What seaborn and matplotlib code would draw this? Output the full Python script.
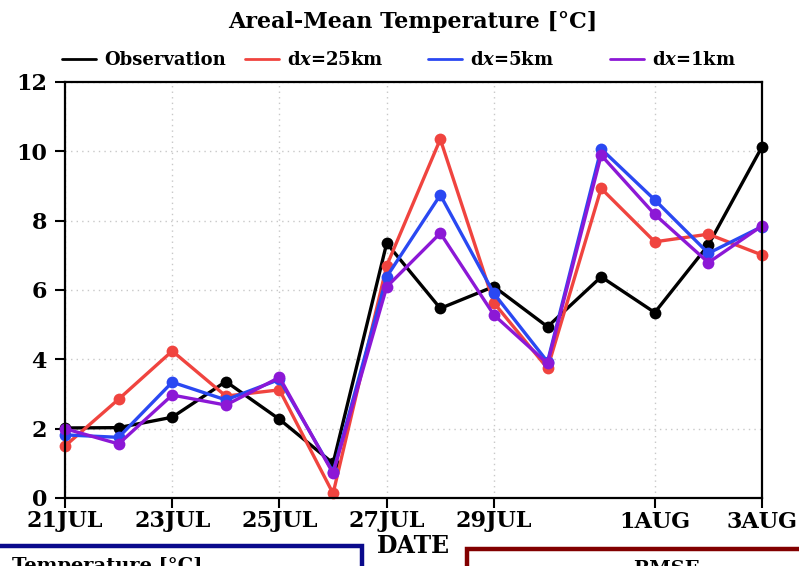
import matplotlib
matplotlib.use("Agg")
import matplotlib.pyplot as plt
import pandas as pd
import seaborn as sns
from matplotlib.lines import Line2D
from matplotlib.patches import Rectangle

# Daily areal-mean temperature, 21 JUL .. 3 AUG (day index 0..13)
days = list(range(14))
tick_days = [0, 2, 4, 6, 8, 11, 13]
tick_labels = ["21JUL", "23JUL", "25JUL", "27JUL", "29JUL", "1AUG", "3AUG"]

observation = [2.02, 2.03, 2.33, 3.36, 2.27, 1.00, 7.35, 5.47, 6.10, 4.94, 6.38, 5.35, 7.30, 10.13]
dx25 = [1.50, 2.85, 4.24, 2.94, 3.12, 0.13, 6.70, 10.35, 5.63, 3.74, 8.93, 7.39, 7.61, 7.01]
dx5 = [1.82, 1.75, 3.34, 2.83, 3.42, 0.75, 6.38, 8.74, 5.90, 3.93, 10.07, 8.60, 7.06, 7.83]
dx1 = [2.00, 1.56, 2.97, 2.68, 3.48, 0.71, 6.09, 7.64, 5.28, 3.88, 9.89, 8.18, 6.79, 7.85]

runs = ["Observation", "dx=25km", "dx=5km", "dx=1km"]
run_labels = ["Observation", r"d$\mathbfit{x}$=25km", r"d$\mathbfit{x}$=5km", r"d$\mathbfit{x}$=1km"]
colors = ["#000000", "#f0443f", "#2a48f2", "#8c18d6"]

df = pd.concat(
    [pd.DataFrame({"day": days, "temp": vals, "run": name})
     for name, vals in zip(runs, [observation, dx25, dx5, dx1])],
    ignore_index=True,
)

sns.set_theme(style="white")
plt.rcParams["font.family"] = ["DejaVu Serif"]
plt.rcParams["font.weight"] = "bold"
plt.rcParams["mathtext.fontset"] = "dejavuserif"
plt.rcParams["text.color"] = "black"
plt.rcParams["axes.labelcolor"] = "black"

W, H = 799, 566
fig = plt.figure(figsize=(W / 100, H / 100), dpi=100)
ax = fig.add_axes([65 / W, 1 - 498 / H, (762 - 65) / W, (498 - 82) / H])

sns.lineplot(
    data=df, x="day", y="temp", hue="run", hue_order=runs,
    palette=dict(zip(runs, colors)), marker="o", markersize=8.5,
    markeredgewidth=0, linewidth=2.4, legend=False, ax=ax, clip_on=False,
)

ax.set_xlim(0, 13)
ax.set_ylim(0, 12)
ax.set_xticks(tick_days)
ax.set_xticklabels(tick_labels)
ax.set_yticks(range(0, 13, 2))
ax.tick_params(axis="both", direction="out", length=7, width=1.5,
               labelsize=16, colors="black", bottom=True, left=True)
ax.tick_params(axis="y", pad=6)
ax.tick_params(axis="x", pad=2)
ax.grid(True, linestyle=(0, (1, 3)), color="#c8c8c8", linewidth=1.0)
for s in ax.spines.values():
    s.set_color("black")
    s.set_linewidth(1.6)
ax.set_ylabel("")
ax.set_xlabel("DATE", fontsize=17, fontweight="bold", labelpad=1, color="black")

fig.text(413 / W, 1 - 22 / H, "Areal-Mean Temperature [°C]", ha="center",
         va="center", fontsize=16, fontweight="bold", color="black")

# Legend row above the panel, one entry per run at fixed spacing
entry_x = [62, 245, 428, 610]
for name, lab, col, x0 in zip(runs, run_labels, colors, entry_x):
    h = Line2D([], [], color=col, linewidth=2.0)
    leg = fig.legend([h], [lab], loc="center left",
                     bbox_to_anchor=(x0 / W, 1 - 60 / H), frameon=False,
                     borderpad=0, borderaxespad=0, handlelength=1.9,
                     handletextpad=0.45, prop={"size": 13, "weight": "bold"})
    for t in leg.get_texts():
        t.set_color("black")

# Neighbouring panels' frames along the bottom edge
fig.patches.append(Rectangle((-10 / W, -40 / H), (362 + 10) / W, (40 + 20) / H,
                             transform=fig.transFigure, facecolor="white",
                             edgecolor="#0a0a8c", linewidth=3.2, zorder=5))
fig.patches.append(Rectangle((467 / W, -40 / H), (W + 20 - 467) / W, (40 + 17) / H,
                             transform=fig.transFigure, facecolor="white",
                             edgecolor="#820000", linewidth=3.2, zorder=5))
fig.text(12 / W, 1 - 557 / H, "Temperature [°C]", ha="left", va="top",
         fontsize=14, fontweight="bold", zorder=6, color="black")
fig.text(633 / W, 1 - 560 / H, "RMSE", ha="left", va="top",
         fontsize=14, fontweight="bold", zorder=6, color="black")

fig.savefig("out.png", dpi=100)
